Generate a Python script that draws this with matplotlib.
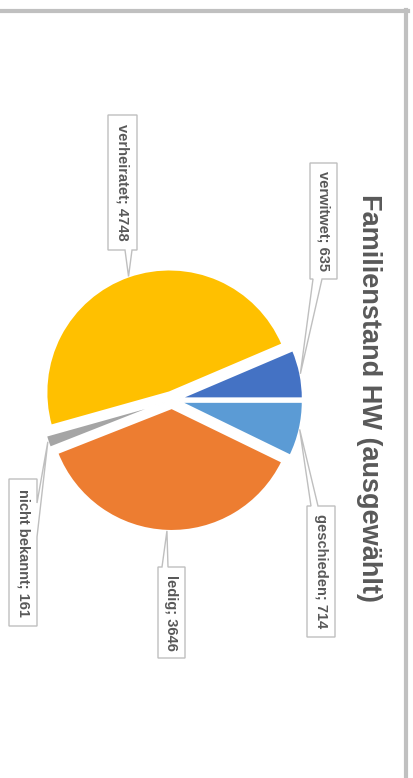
import matplotlib
matplotlib.use("Agg")
import matplotlib.pyplot as plt
import numpy as np
from matplotlib.patches import Polygon
from matplotlib.lines import Line2D

W, H = 413, 778

# ---- data ----
categories = ["geschieden", "ledig", "nicht bekannt", "verheiratet", "verwitwet"]
values = [714, 3646, 161, 4748, 635]
colors = ["#5B9BD5", "#ED7D31", "#A5A5A5", "#FFC000", "#4472C4"]
title = "Familienstand HW (ausgewählt)"

# ---- layout (pixel coords, y down) ----
label_layout = {
    "verheiratet":   ((108, 115, 137, 250), "bottom", (125, 132)),
    "verwitwet":     ((310, 163, 337, 279), "bottom", (313, 322)),
    "geschieden":    ((307, 506, 335, 637), "top", (311, 318)),
    "ledig":         ((158, 567, 185, 658), "top", (162, 168)),
    "nicht bekannt": ((9, 479, 37, 626), "right", (503, 537)),
}

FONT = ["Liberation Sans Narrow", "Liberation Sans", "DejaVu Sans"]
TXT = "#595959"
EDGE = "#BFBFBF"

fig = plt.figure(figsize=(W / 100, H / 100), dpi=100)
ax = fig.add_axes([0, 0, 1, 1])


def Y(y):
    return H - y


wedges, _ = ax.pie(values, colors=colors, startangle=0, counterclock=False,
                   radius=123, center=(172, Y(400)), explode=[8] * len(values),
                   wedgeprops=dict(edgecolor="white", linewidth=1.5), frame=True)
ax.set_xlim(0, W)
ax.set_ylim(0, H)
ax.set_aspect("equal")
ax.axis("off")

for cat, val, w in zip(categories, values, wedges):
    (x0, y0, x1, y1), side, (a, b) = label_layout[cat]
    mid = np.deg2rad((w.theta1 + w.theta2) / 2)
    cx, cy = w.center
    tip = (cx + w.r * np.cos(mid), cy + w.r * np.sin(mid))
    X0, X1 = x0, x1
    YT, YB = Y(y0), Y(y1)
    if side == "bottom":
        pts = [(X0, YT), (X1, YT), (X1, YB), (b, YB), tip, (a, YB), (X0, YB)]
    elif side == "top":
        pts = [(X0, YT), (a, YT), tip, (b, YT), (X1, YT), (X1, YB), (X0, YB)]
    else:  # right
        pts = [(X0, YT), (X1, YT), (X1, Y(a)), tip, (X1, Y(b)), (X1, YB), (X0, YB)]
    ax.add_patch(Polygon(pts, closed=True, facecolor="white", edgecolor=EDGE,
                         linewidth=1.0, zorder=5))
    ax.text((X0 + X1) / 2, (YT + YB) / 2, f"{cat}; {val}", rotation=-90,
            ha="center", va="center", fontsize=10.5, color=TXT, family=FONT,
            fontweight="bold", zorder=6, rotation_mode="anchor")

ax.text(369, Y(398), title, rotation=-90, ha="center", va="center",
        fontsize=19.5, color=TXT, family=FONT, fontweight="bold",
        rotation_mode="anchor")

# frame lines
fig.add_artist(Line2D([0, 408 / W], [1 - 11 / H, 1 - 11 / H], color="#C0C0C0",
                      linewidth=3, transform=fig.transFigure))
fig.add_artist(Line2D([406 / W, 406 / W], [0, 1 - 10 / H], color="#C0C0C0",
                      linewidth=3, transform=fig.transFigure))

fig.savefig("out.png", dpi=100, facecolor="white")
